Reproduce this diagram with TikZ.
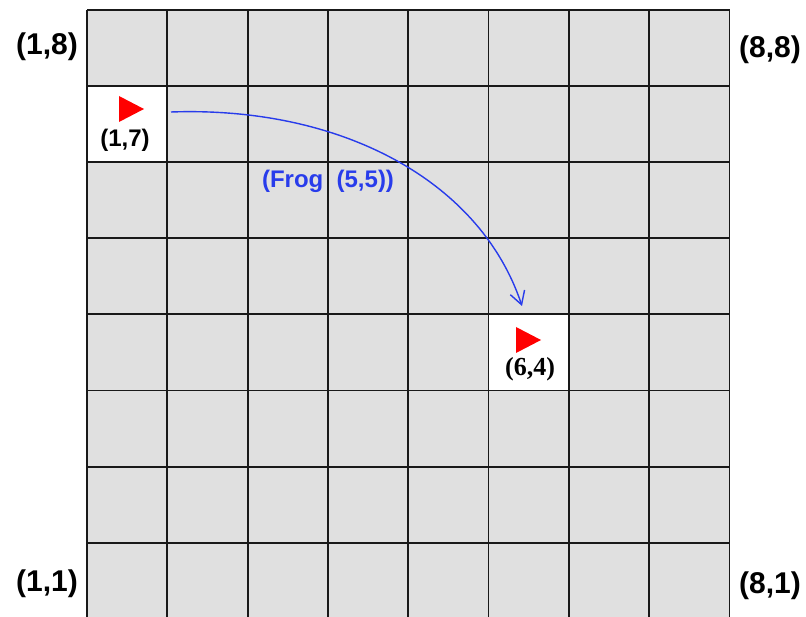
\documentclass[tikz,border=0pt]{standalone}
\usepackage{fontspec}
\setmainfont{Liberation Sans}
\newfontfamily\timesfont{Liberation Serif}
\usetikzlibrary{arrows.meta, positioning}
\definecolor{cellgray}{RGB}{224,224,224}
\definecolor{frogblue}{RGB}{40,60,235}

\begin{document}
\begin{tikzpicture}[x=1pt,y=-1pt,
		gridline/.style={line width=1.8pt, black!90},
		corner/.style={font=\fontsize{30}{30}\selectfont\bfseries},
		cellname/.style={font=\fontsize{24}{24}\selectfont\bfseries},
		flag/.style={fill=red}]
			\useasboundingbox (0,0) rectangle (806,617);
			\clip (0,0) rectangle (806,617);
			% board
			\fill[cellgray] (87,10) rectangle (730,625);
			\fill[white] (87,86.1) rectangle (167.3,162.2);
			\fill[white] (488.5,314.4) rectangle (568.8,390.5);
			\foreach \i in {0,...,8}
				\draw[gridline] (87+80.3*\i,10) -- (87+80.3*\i,625);
			\foreach \j in {0,...,8}
				\draw[gridline] (87,10+76.1*\j) -- (730,10+76.1*\j);
			% frogs
			\fill[flag] (119,96) -- (144,109) -- (119,122) -- cycle;
			\fill[flag] (516,327) -- (541,340) -- (516,353) -- cycle;
			\node[cellname] (from) at (125,140) {(1,7)};
			\node[font=\fontsize{26}{26}\selectfont\timesfont\bfseries] (to) at (530,369) {(6,4)};
			% corners
			\node[corner] (c18) at (47,47) {(1,8)};
			\node[corner] (c88) at (770,50) {(8,8)};
			\node[corner] (c11) at (47,584) {(1,1)};
			\node[corner] (c81) at (770,586) {(8,1)};
			% jump
			\coordinate (jumpA) at (171,112);
			\coordinate (jumpB) at (522,306);
			\draw[frogblue, line width=1.4pt, -{Straight Barb[length=13pt,width=15pt]}]
				(jumpA) .. controls (340,106) and (480,180) .. (jumpB);
			\node[cellname, text=frogblue] (jump) at (328,181) {(Frog\ \ (5,5))};
		\end{tikzpicture}
\end{document}
